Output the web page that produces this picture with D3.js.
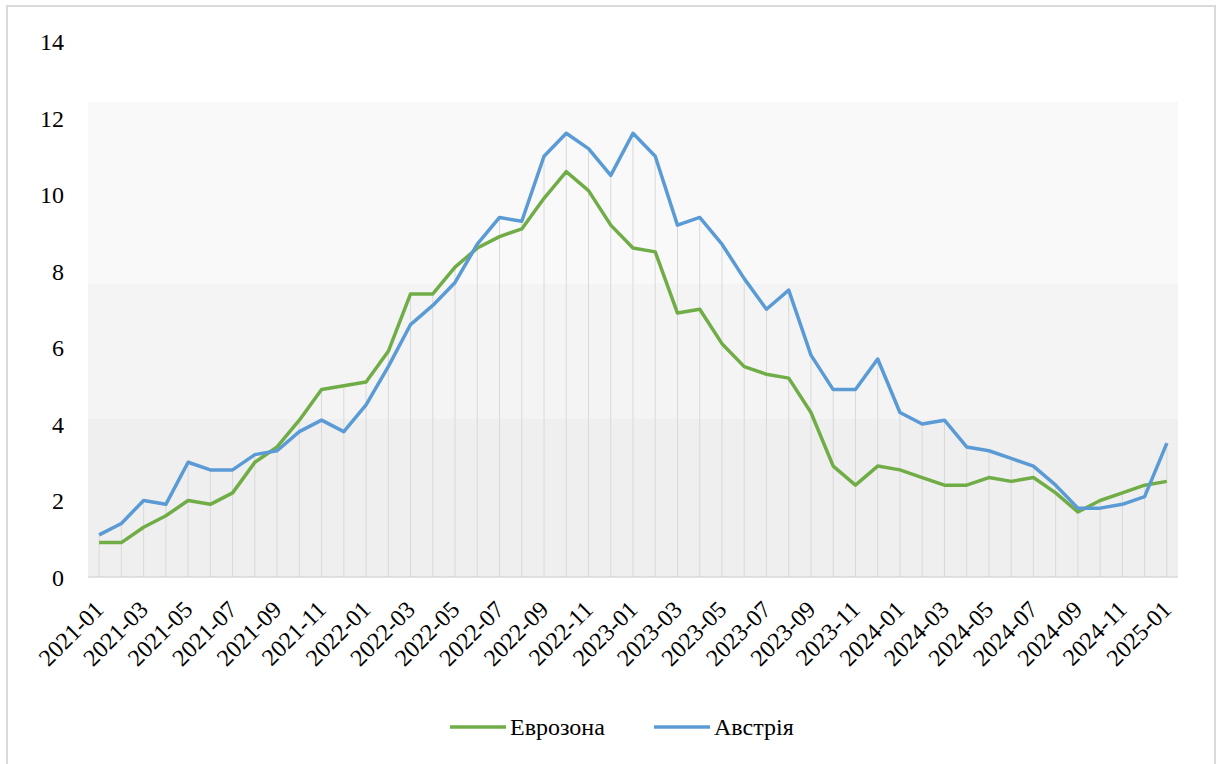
<!DOCTYPE html>
<html>
<head>
<meta charset="utf-8">
<script src="https://cdn.jsdelivr.net/npm/d3@7"></script>
<style>
  html, body { margin: 0; padding: 0; background: #fff; }
  svg { display: block; }
  svg text { font-family: "Liberation Serif", "Tinos", "Times New Roman", "Times", "Noto Serif", "DejaVu Serif", "Nimbus Roman", "FreeSerif", serif !important; fill: #000; }
</style>
</head>
<body>
<svg id="chart" width="1218" height="764"></svg>
<script>
// Monthly inflation, % y/y
const months = [
  "2021-01","2021-02","2021-03","2021-04","2021-05","2021-06","2021-07","2021-08","2021-09","2021-10","2021-11","2021-12",
  "2022-01","2022-02","2022-03","2022-04","2022-05","2022-06","2022-07","2022-08","2022-09","2022-10","2022-11","2022-12",
  "2023-01","2023-02","2023-03","2023-04","2023-05","2023-06","2023-07","2023-08","2023-09","2023-10","2023-11","2023-12",
  "2024-01","2024-02","2024-03","2024-04","2024-05","2024-06","2024-07","2024-08","2024-09","2024-10","2024-11","2024-12",
  "2025-01"
];
const eurozone = [
  0.9, 0.9, 1.3, 1.6, 2.0, 1.9, 2.2, 3.0, 3.4, 4.1, 4.9, 5.0,
  5.1, 5.9, 7.4, 7.4, 8.1, 8.6, 8.9, 9.1, 9.9, 10.6, 10.1, 9.2,
  8.6, 8.5, 6.9, 7.0, 6.1, 5.5, 5.3, 5.2, 4.3, 2.9, 2.4, 2.9,
  2.8, 2.6, 2.4, 2.4, 2.6, 2.5, 2.6, 2.2, 1.7, 2.0, 2.2, 2.4,
  2.5
];
const austria = [
  1.1, 1.4, 2.0, 1.9, 3.0, 2.8, 2.8, 3.2, 3.3, 3.8, 4.1, 3.8,
  4.5, 5.5, 6.6, 7.1, 7.7, 8.7, 9.4, 9.3, 11.0, 11.6, 11.2, 10.5,
  11.6, 11.0, 9.2, 9.4, 8.7, 7.8, 7.0, 7.5, 5.8, 4.9, 4.9, 5.7,
  4.3, 4.0, 4.1, 3.4, 3.3, 3.1, 2.9, 2.4, 1.8, 1.8, 1.9, 2.1,
  3.5
];
const seriesNames = ["Еврозона", "Австрія"];
const yTicks = [0, 2, 4, 6, 8, 10, 12, 14];
const xTickLabels = months.filter((m, i) => i % 2 === 0);
// shaded background bands, in value units
const bandEdges = [0, 4.13, 7.68, 12.42];
const bandFills = ["#efefef", "#f4f4f4", "#f9f9f9"];

const colors = ["#70ad47", "#5b9bd5"];
const serif = '"Liberation Serif", "Tinos", "Times New Roman", "Times", "Noto Serif", "DejaVu Serif", serif';

const svg = d3.select("#chart");
const plot = { left: 88, right: 1178, top: 41.5, bottom: 577 };

const x = d3.scaleBand().domain(months).range([plot.left, plot.right]);
const xc = m => x(m) + x.bandwidth() / 2;
const y = d3.scaleLinear().domain([0, 14]).range([plot.bottom, plot.top]);

// outer frame
svg.append("rect")
  .attr("x", 7).attr("y", 6).attr("width", 1208).attr("height", 790)
  .attr("fill", "#fff").attr("stroke", "#d9d9d9").attr("stroke-width", 2);

// background bands
svg.append("g").selectAll("rect")
  .data(bandFills)
  .join("rect")
  .attr("x", plot.left)
  .attr("width", plot.right - plot.left)
  .attr("y", (d, i) => y(bandEdges[i + 1]))
  .attr("height", (d, i) => y(bandEdges[i]) - y(bandEdges[i + 1]))
  .attr("fill", d => d);

// drop lines from the higher of the two series to the axis
svg.append("g").selectAll("line")
  .data(months)
  .join("line")
  .attr("x1", d => xc(d)).attr("x2", d => xc(d))
  .attr("y1", plot.bottom)
  .attr("y2", (d, i) => y(Math.max(eurozone[i], austria[i])))
  .attr("stroke", "#d9d9d9").attr("stroke-width", 1);

// x axis line
svg.append("line")
  .attr("x1", plot.left).attr("x2", plot.right)
  .attr("y1", plot.bottom).attr("y2", plot.bottom)
  .attr("stroke", "#d9d9d9").attr("stroke-width", 1.5);

// y axis labels
const yAxis = d3.axisLeft(y).tickValues(yTicks).tickSize(0).tickPadding(0);
const gy = svg.append("g").attr("transform", "translate(64,0)").call(yAxis)
  .attr("font-family", serif).attr("font-size", 24);
gy.select(".domain").remove();
gy.selectAll("text")
  .attr("font-size", 24).attr("fill", "#000")
  .attr("dy", "0.35em");

// x axis labels, rotated
const xAxis = d3.axisBottom(x).tickValues(xTickLabels).tickSize(0).tickPadding(0);
const gx = svg.append("g").attr("transform", `translate(0,${plot.bottom})`).call(xAxis)
  .attr("font-family", serif).attr("font-size", 24);
gx.select(".domain").remove();
gx.selectAll("text")
  .attr("font-size", 24).attr("fill", "#000")
  .attr("text-anchor", "end")
  .attr("y", 0).attr("dy", "0.35em")
  .attr("transform", "translate(0,28) rotate(-45)");

// series lines
const line = d3.line().x((d, i) => xc(months[i])).y(d => y(d));
[eurozone, austria].forEach((vals, k) => {
  svg.append("path")
    .datum(vals)
    .attr("d", line)
    .attr("fill", "none")
    .attr("stroke", colors[k])
    .attr("stroke-width", 3.5)
    .attr("stroke-linejoin", "round");
});

// legend
const legendItems = [
  { name: seriesNames[0], color: colors[0], x: 450 },
  { name: seriesNames[1], color: colors[1], x: 654 }
];
const lg = svg.append("g").selectAll("g")
  .data(legendItems)
  .join("g")
  .attr("transform", d => `translate(${d.x},727)`);
lg.append("line")
  .attr("x1", 0).attr("x2", 56).attr("y1", 0).attr("y2", 0)
  .attr("stroke", d => d.color).attr("stroke-width", 3.5);
lg.append("text")
  .attr("x", 60).attr("dy", "0.35em")
  .attr("font-size", 24)
  .text(d => d.name);
</script>
</body>
</html>
